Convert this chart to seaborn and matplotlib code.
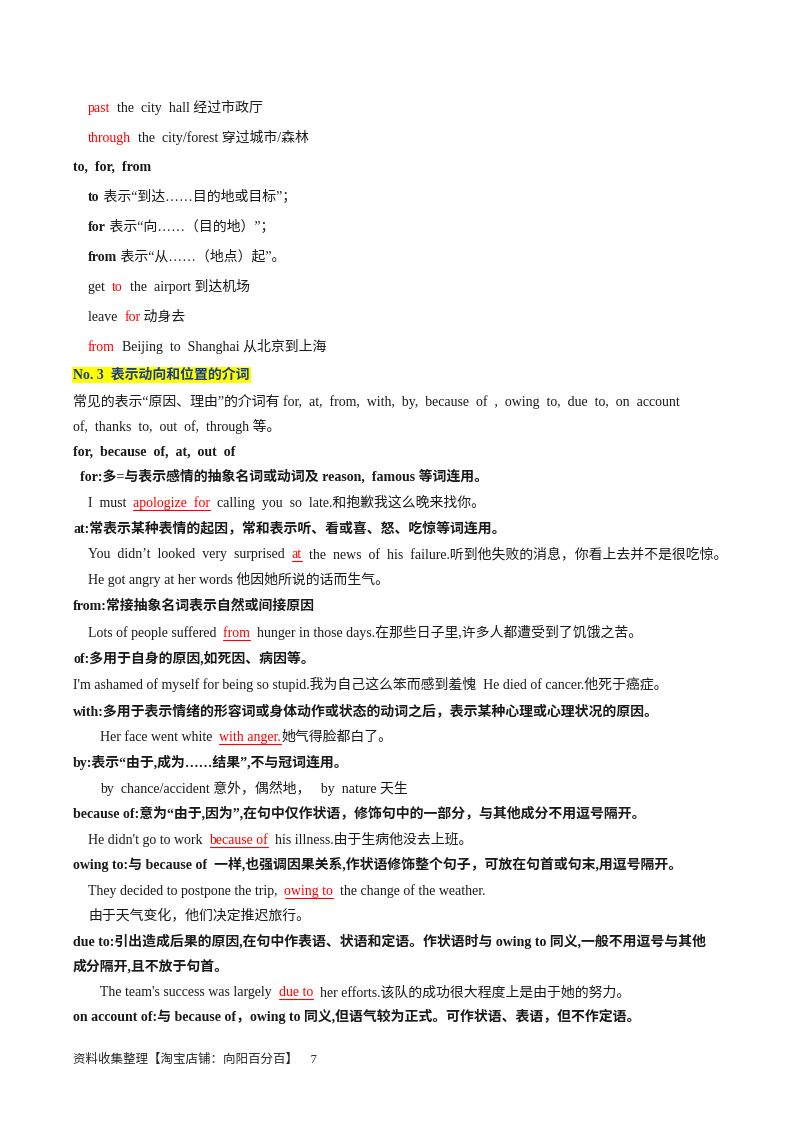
import matplotlib
matplotlib.use("Agg")
import matplotlib.pyplot as plt
import seaborn as sns
from matplotlib.transforms import IdentityTransform
from matplotlib.lines import Line2D

sns.set_theme(style="white")
plt.rcParams['font.family'] = ['Liberation Serif', 'Noto Sans CJK SC', 'DejaVu Sans']

R = 'red'
line_y = [107,137,166,196,226,256,286,316,346,374,401,426,451,476,502,527,553,579,605,632,658,684,710,736,762,788,813,839,864,890,915,941,966,991,1016]
line_x = [88,88,73,88,88,88,88,88,88,73,73,73,73,80,88,73,88,88,73,88,73,73,73,100,73,100,73,88,73,88,88,73,73,100,73]
segments = [
 [("past",R,0,0),("  the  city  hall 经过市政厅",'k',0,0)],
 [("through",R,0,0),("  the  city/forest 穿过城市/森林",'k',0,0)],
 [("to,  for,  from",'k',1,0)],
 [("to",'k',1,0),(" 表示“到达……目的地或目标”；",'k',0,0)],
 [("for",'k',1,0),(" 表示“向……（目的地）”；",'k',0,0)],
 [("from",'k',1,0),(" 表示“从……（地点）起”。",'k',0,0)],
 [("get  ",'k',0,0),("to",R,0,0),("  the  airport 到达机场",'k',0,0)],
 [("leave  ",'k',0,0),("for",R,0,0),(" 动身去",'k',0,0)],
 [("from",R,0,0),("  Beijing  to  Shanghai 从北京到上海",'k',0,0)],
 [("No. 3  表示动向和位置的介词",'#1a3c8c',1,0)],
 [("常见的表示“原因、理由”的介词有 for,  at,  from,  with,  by,  because  of  ,  owing  to,  due  to,  on  account",'k',0,0)],
 [("of,  thanks  to,  out  of,  through 等。",'k',0,0)],
 [("for,  because  of,  at,  out  of",'k',1,0)],
 [("for:多=与表示感情的抽象名词或动词及 reason,  famous 等词连用。",'k',1,0)],
 [("I  must  ",'k',0,0),("apologize  for",R,0,1),("  calling  you  so  late.和抱歉我这么晚来找你。",'k',0,0)],
 [("at:常表示某种表情的起因，常和表示听、看或喜、怒、吃惊等词连用。",'k',1,0)],
 [("You  didn’t  looked  very  surprised  ",'k',0,0),("at",R,0,1),("  the  news  of  his  failure.听到他失败的消息，你看上去并不是很吃惊。",'k',0,0)],
 [("He got angry at her words 他因她所说的话而生气。",'k',0,0)],
 [("from:常接抽象名词表示自然或间接原因",'k',1,0)],
 [("Lots of people suffered",'k',0,0),("  from",R,0,1),("  hunger in those days.在那些日子里,许多人都遭受到了饥饿之苦。",'k',0,0)],
 [("of:多用于自身的原因,如死因、病因等。",'k',1,0)],
 [("I'm ashamed of myself for being so stupid.我为自己这么笨而感到羞愧  He died of cancer.他死于癌症。",'k',0,0)],
 [("with:多用于表示情绪的形容词或身体动作或状态的动词之后，表示某种心理或心理状况的原因。",'k',1,0)],
 [("Her face went white  ",'k',0,0),("with anger.",R,0,1),("她气得脸都白了。",'k',0,0)],
 [("by:表示“由于,成为……结果”,不与冠词连用。",'k',1,0)],
 [("by  chance/accident 意外，偶然地，   by  nature 天生",'k',0,0)],
 [("because of:意为“由于,因为”,在句中仅作状语，修饰句中的一部分，与其他成分不用逗号隔开。",'k',1,0)],
 [("He didn't go to work  ",'k',0,0),("because of",R,0,1),("  his illness.由于生病他没去上班。",'k',0,0)],
 [("owing to:与 because of  一样,也强调因果关系,作状语修饰整个句子，可放在句首或句末,用逗号隔开。",'k',1,0)],
 [("They decided to postpone the trip,  ",'k',0,0),("owing to",R,0,1),("  the change of the weather.",'k',0,0)],
 [("由于天气变化，他们决定推迟旅行。",'k',0,0)],
 [("due to:引出造成后果的原因,在句中作表语、状语和定语。作状语时与 owing to 同义,一般不用逗号与其他",'k',1,0)],
 [("成分隔开,且不放于句首。",'k',1,0)],
 [("The team's success was largely  ",'k',0,0),("due to",R,0,1),("  her efforts.该队的成功很大程度上是由于她的努力。",'k',0,0)],
 [("on account of:与 because of，owing to 同义,但语气较为正式。可作状语、表语，但不作定语。",'k',1,0)],
]
footer = "资料收集整理【淘宝店铺：向阳百分百】    7"

W, H = 800, 1132
fig = plt.figure(figsize=(W/100, H/100), dpi=100)
fig.patch.set_facecolor('white')
r = fig.canvas.get_renderer()
tr = IdentityTransform()
FS = 10.0

for i, (y, x0, segs) in enumerate(zip(line_y, line_x, segments)):
    x = x0
    yy = H - y - 5
    for txt, col, bold, ul in segs:
        kw = {}
        if i == 9:
            kw['bbox'] = dict(facecolor='#ffff00', edgecolor='none', pad=1)
        t = fig.text(x, yy, txt, transform=tr, color=col, fontsize=FS,
                     fontweight='bold' if bold else 'normal', va='baseline', ha='left', **kw)
        bb = t.get_window_extent(r)
        if ul:
            fig.add_artist(Line2D([bb.x0 + (6 if txt.startswith('  ') else 0), bb.x1], [yy - 3, yy - 3],
                                  transform=tr, color=R, lw=0.8))
        x = bb.x1

fig.text(73, H - 1058 - 5, footer, transform=tr, fontsize=9, va='baseline', ha='left')
fig.savefig("out.png", dpi=100, facecolor='white')
